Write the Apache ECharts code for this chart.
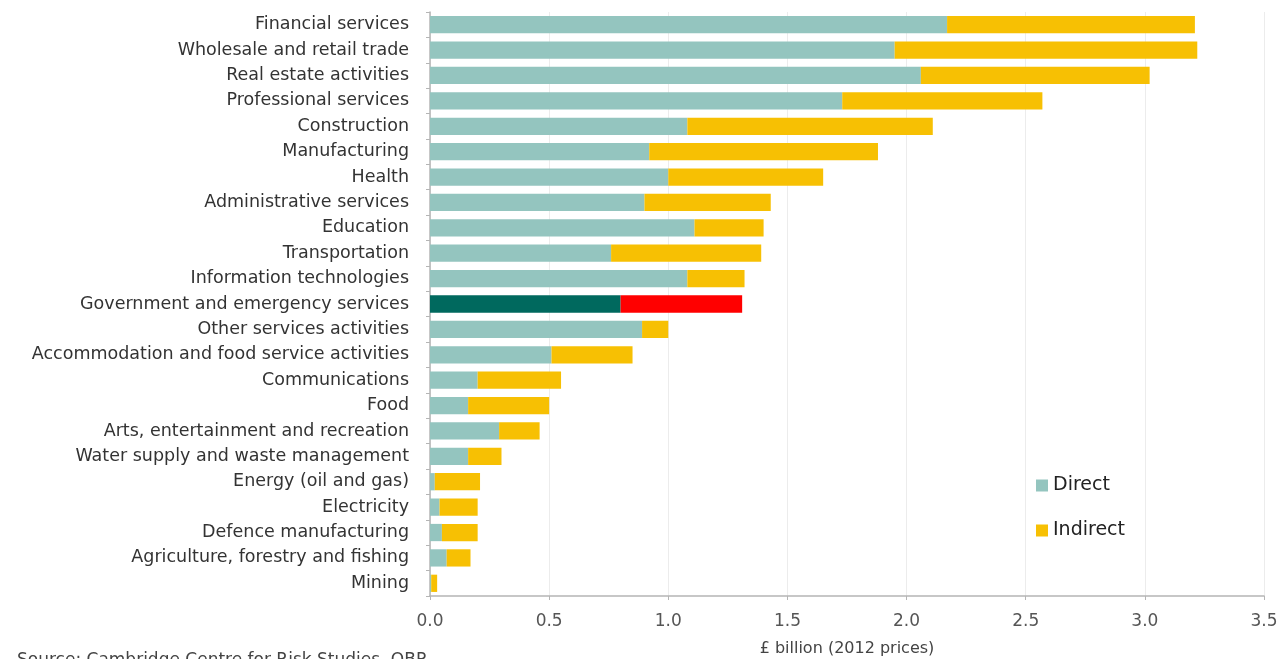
<!DOCTYPE html>
<html>
<head>
<meta charset="utf-8">
<script src="https://cdn.jsdelivr.net/npm/echarts@6/dist/echarts.min.js"></script>
<style>
html,body{margin:0;padding:0;background:#fff;}
#chart{width:1287px;height:659px;}
</style>
</head>
<body>
<div id="chart"></div>
<script>
const categories = [
  "Financial services",
  "Wholesale and retail trade",
  "Real estate activities",
  "Professional services",
  "Construction",
  "Manufacturing",
  "Health",
  "Administrative services",
  "Education",
  "Transportation",
  "Information technologies",
  "Government and emergency services",
  "Other services activities",
  "Accommodation and food service activities",
  "Communications",
  "Food",
  "Arts, entertainment and recreation",
  "Water supply and waste management",
  "Energy (oil and gas)",
  "Electricity",
  "Defence manufacturing",
  "Agriculture, forestry and fishing",
  "Mining"
];
const directValues = [2.17, 1.95, 2.06, 1.73, 1.08, 0.92, 1.00, 0.90, 1.11, 0.76, 1.08, 0.80, 0.89, 0.51, 0.20, 0.16, 0.29, 0.16, 0.02, 0.04, 0.05, 0.07, 0.005];
const indirectValues = [1.04, 1.27, 0.96, 0.84, 1.03, 0.96, 0.65, 0.53, 0.29, 0.63, 0.24, 0.51, 0.11, 0.34, 0.35, 0.34, 0.17, 0.14, 0.19, 0.16, 0.15, 0.10, 0.025];
const xTicks = ["0.0","0.5","1.0","1.5","2.0","2.5","3.0","3.5"];
const highlightCategory = "Government and emergency services";

const colDirect = "#94c5bf";
const colIndirect = "#f7c003";
const colHiDirect = "#00695e";
const colHiIndirect = "#ff0000";

const font = "'DejaVu Sans', sans-serif";

function mk(values, hi) {
  return values.map((v, i) => categories[i] === highlightCategory
    ? { value: v, itemStyle: { color: hi } }
    : v);
}

const chart = echarts.init(document.getElementById('chart'), null, {renderer: 'canvas'});
chart.setOption({
  animation: false,
  backgroundColor: '#fff',
  textStyle: { fontFamily: font },
  grid: { left: 430, right: 23, top: 12, bottom: 63, containLabel: false, outerBoundsMode: 'none' },
  legend: {
    orient: 'vertical',
    left: 1031,
    top: 471,
    itemWidth: 12,
    itemHeight: 12,
    itemGap: 26,
    icon: 'rect',
    textStyle: { fontSize: 19, color: '#222', fontFamily: font },
    data: ['Direct', 'Indirect']
  },
  xAxis: {
    type: 'value',
    min: 0, max: 3.5, interval: 0.5,
    name: '£ billion (2012 prices)',
    nameLocation: 'middle',
    nameGap: 45,
    nameTextStyle: { fontSize: 16, color: '#444', fontFamily: font },
    axisLine: { show: true, lineStyle: { color: '#b5b5b5', width: 1.5 } },
    axisTick: { show: true, length: 4, lineStyle: { color: '#b5b5b5' } },
    axisLabel: { fontSize: 17, color: '#555', margin: 17, fontFamily: font, formatter: v => xTicks[Math.round(v / 0.5)] },
    splitLine: { show: true, lineStyle: { color: '#ececec', width: 1 } }
  },
  yAxis: {
    type: 'category',
    inverse: true,
    data: categories,
    axisLine: { show: true, lineStyle: { color: '#b5b5b5', width: 1.5 } },
    axisTick: { show: true, length: 4, lineStyle: { color: '#b5b5b5' } },
    axisLabel: { fontSize: 17.5, color: '#333', margin: 21, fontFamily: font }
  },
  series: [
    {
      name: 'Direct', type: 'bar', stack: 'total',
      barCategoryGap: '32%',
      itemStyle: { color: colDirect },
      data: mk(directValues, colHiDirect)
    },
    {
      name: 'Indirect', type: 'bar', stack: 'total',
      barCategoryGap: '32%',
      itemStyle: { color: colIndirect },
      data: mk(indirectValues, colHiIndirect)
    }
  ],
  graphic: [
    { type: 'text', left: 17, top: 652,
      style: { text: 'Source: Cambridge Centre for Risk Studies, OBR', fontSize: 17, fill: '#444', fontFamily: font } }
  ]
});
</script>
</body>
</html>
